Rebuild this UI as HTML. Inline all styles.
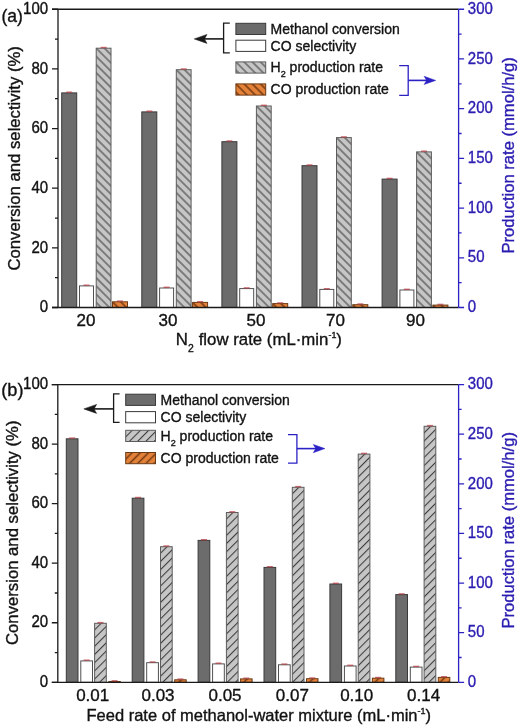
<!DOCTYPE html>
<html><head><meta charset="utf-8"><style>
html,body{margin:0;padding:0;background:#fff;}
svg{display:block;font-family:"Liberation Sans", sans-serif;filter:blur(0.35px);}
text{stroke-width:0.35px;paint-order:stroke;}
</style></head><body>
<svg width="520" height="726" viewBox="0 0 520 726">
<rect width="520" height="726" fill="#fff"/>
<defs><pattern id="p1" patternUnits="userSpaceOnUse" width="5.8" height="5.8" patternTransform="translate(95.70,47.70) rotate(-45)"><rect width="5.8" height="5.8" fill="#c6c6c6"/><rect x="5.27" y="0" width="0.53" height="5.8" fill="#3a3a3a"/><rect x="0" y="0" width="0.52" height="5.8" fill="#3a3a3a"/></pattern><pattern id="p2" patternUnits="userSpaceOnUse" width="5.8" height="5.8" patternTransform="translate(112.00,301.30) rotate(-45)"><rect width="5.8" height="5.8" fill="#e4823a"/><rect x="5.05" y="0" width="0.75" height="5.8" fill="#743810"/><rect x="0" y="0" width="0.75" height="5.8" fill="#743810"/></pattern><pattern id="p3" patternUnits="userSpaceOnUse" width="5.8" height="5.8" patternTransform="translate(175.80,69.20) rotate(-45)"><rect width="5.8" height="5.8" fill="#c6c6c6"/><rect x="5.27" y="0" width="0.53" height="5.8" fill="#3a3a3a"/><rect x="0" y="0" width="0.52" height="5.8" fill="#3a3a3a"/></pattern><pattern id="p4" patternUnits="userSpaceOnUse" width="5.8" height="5.8" patternTransform="translate(192.10,301.90) rotate(-45)"><rect width="5.8" height="5.8" fill="#e4823a"/><rect x="5.05" y="0" width="0.75" height="5.8" fill="#743810"/><rect x="0" y="0" width="0.75" height="5.8" fill="#743810"/></pattern><pattern id="p5" patternUnits="userSpaceOnUse" width="5.8" height="5.8" patternTransform="translate(255.90,105.50) rotate(-45)"><rect width="5.8" height="5.8" fill="#c6c6c6"/><rect x="5.27" y="0" width="0.53" height="5.8" fill="#3a3a3a"/><rect x="0" y="0" width="0.52" height="5.8" fill="#3a3a3a"/></pattern><pattern id="p6" patternUnits="userSpaceOnUse" width="5.8" height="5.8" patternTransform="translate(272.20,303.10) rotate(-45)"><rect width="5.8" height="5.8" fill="#e4823a"/><rect x="5.05" y="0" width="0.75" height="5.8" fill="#743810"/><rect x="0" y="0" width="0.75" height="5.8" fill="#743810"/></pattern><pattern id="p7" patternUnits="userSpaceOnUse" width="5.8" height="5.8" patternTransform="translate(336.00,137.10) rotate(-45)"><rect width="5.8" height="5.8" fill="#c6c6c6"/><rect x="5.27" y="0" width="0.53" height="5.8" fill="#3a3a3a"/><rect x="0" y="0" width="0.52" height="5.8" fill="#3a3a3a"/></pattern><pattern id="p8" patternUnits="userSpaceOnUse" width="5.8" height="5.8" patternTransform="translate(352.30,304.20) rotate(-45)"><rect width="5.8" height="5.8" fill="#e4823a"/><rect x="5.05" y="0" width="0.75" height="5.8" fill="#743810"/><rect x="0" y="0" width="0.75" height="5.8" fill="#743810"/></pattern><pattern id="p9" patternUnits="userSpaceOnUse" width="5.8" height="5.8" patternTransform="translate(416.10,151.40) rotate(-45)"><rect width="5.8" height="5.8" fill="#c6c6c6"/><rect x="5.27" y="0" width="0.53" height="5.8" fill="#3a3a3a"/><rect x="0" y="0" width="0.52" height="5.8" fill="#3a3a3a"/></pattern><pattern id="p10" patternUnits="userSpaceOnUse" width="5.8" height="5.8" patternTransform="translate(432.40,304.60) rotate(-45)"><rect width="5.8" height="5.8" fill="#e4823a"/><rect x="5.05" y="0" width="0.75" height="5.8" fill="#743810"/><rect x="0" y="0" width="0.75" height="5.8" fill="#743810"/></pattern><pattern id="p11" patternUnits="userSpaceOnUse" width="5.8" height="5.8" patternTransform="translate(94.10,622.80) rotate(45)"><rect width="5.8" height="5.8" fill="#c6c6c6"/><rect x="4.84" y="0" width="0.96" height="5.8" fill="#3a3a3a"/><rect x="0" y="0" width="0.09" height="5.8" fill="#3a3a3a"/></pattern><pattern id="p12" patternUnits="userSpaceOnUse" width="5.8" height="5.8" patternTransform="translate(108.30,681.00) rotate(45)"><rect width="5.8" height="5.8" fill="#e4823a"/><rect x="4.62" y="0" width="1.18" height="5.8" fill="#743810"/><rect x="0" y="0" width="0.32" height="5.8" fill="#743810"/></pattern><pattern id="p13" patternUnits="userSpaceOnUse" width="5.8" height="5.8" patternTransform="translate(160.00,546.20) rotate(45)"><rect width="5.8" height="5.8" fill="#c6c6c6"/><rect x="4.84" y="0" width="0.96" height="5.8" fill="#3a3a3a"/><rect x="0" y="0" width="0.09" height="5.8" fill="#3a3a3a"/></pattern><pattern id="p14" patternUnits="userSpaceOnUse" width="5.8" height="5.8" patternTransform="translate(174.20,679.30) rotate(45)"><rect width="5.8" height="5.8" fill="#e4823a"/><rect x="4.62" y="0" width="1.18" height="5.8" fill="#743810"/><rect x="0" y="0" width="0.32" height="5.8" fill="#743810"/></pattern><pattern id="p15" patternUnits="userSpaceOnUse" width="5.8" height="5.8" patternTransform="translate(225.90,512.00) rotate(45)"><rect width="5.8" height="5.8" fill="#c6c6c6"/><rect x="4.84" y="0" width="0.96" height="5.8" fill="#3a3a3a"/><rect x="0" y="0" width="0.09" height="5.8" fill="#3a3a3a"/></pattern><pattern id="p16" patternUnits="userSpaceOnUse" width="5.8" height="5.8" patternTransform="translate(240.10,678.40) rotate(45)"><rect width="5.8" height="5.8" fill="#e4823a"/><rect x="4.62" y="0" width="1.18" height="5.8" fill="#743810"/><rect x="0" y="0" width="0.32" height="5.8" fill="#743810"/></pattern><pattern id="p17" patternUnits="userSpaceOnUse" width="5.8" height="5.8" patternTransform="translate(291.80,486.80) rotate(45)"><rect width="5.8" height="5.8" fill="#c6c6c6"/><rect x="4.84" y="0" width="0.96" height="5.8" fill="#3a3a3a"/><rect x="0" y="0" width="0.09" height="5.8" fill="#3a3a3a"/></pattern><pattern id="p18" patternUnits="userSpaceOnUse" width="5.8" height="5.8" patternTransform="translate(306.00,678.20) rotate(45)"><rect width="5.8" height="5.8" fill="#e4823a"/><rect x="4.62" y="0" width="1.18" height="5.8" fill="#743810"/><rect x="0" y="0" width="0.32" height="5.8" fill="#743810"/></pattern><pattern id="p19" patternUnits="userSpaceOnUse" width="5.8" height="5.8" patternTransform="translate(357.70,453.60) rotate(45)"><rect width="5.8" height="5.8" fill="#c6c6c6"/><rect x="4.84" y="0" width="0.96" height="5.8" fill="#3a3a3a"/><rect x="0" y="0" width="0.09" height="5.8" fill="#3a3a3a"/></pattern><pattern id="p20" patternUnits="userSpaceOnUse" width="5.8" height="5.8" patternTransform="translate(371.90,677.70) rotate(45)"><rect width="5.8" height="5.8" fill="#e4823a"/><rect x="4.62" y="0" width="1.18" height="5.8" fill="#743810"/><rect x="0" y="0" width="0.32" height="5.8" fill="#743810"/></pattern><pattern id="p21" patternUnits="userSpaceOnUse" width="5.8" height="5.8" patternTransform="translate(423.60,425.80) rotate(45)"><rect width="5.8" height="5.8" fill="#c6c6c6"/><rect x="4.84" y="0" width="0.96" height="5.8" fill="#3a3a3a"/><rect x="0" y="0" width="0.09" height="5.8" fill="#3a3a3a"/></pattern><pattern id="p22" patternUnits="userSpaceOnUse" width="5.8" height="5.8" patternTransform="translate(437.80,676.90) rotate(45)"><rect width="5.8" height="5.8" fill="#e4823a"/><rect x="4.62" y="0" width="1.18" height="5.8" fill="#743810"/><rect x="0" y="0" width="0.32" height="5.8" fill="#743810"/></pattern><pattern id="p23" patternUnits="userSpaceOnUse" width="5.8" height="5.8" patternTransform="translate(235.40,61.40) rotate(-45)"><rect width="5.8" height="5.8" fill="#c6c6c6"/><rect x="5.27" y="0" width="0.53" height="5.8" fill="#3a3a3a"/><rect x="0" y="0" width="0.52" height="5.8" fill="#3a3a3a"/></pattern><pattern id="p24" patternUnits="userSpaceOnUse" width="5.8" height="5.8" patternTransform="translate(235.40,83.40) rotate(-45)"><rect width="5.8" height="5.8" fill="#e4823a"/><rect x="5.05" y="0" width="0.75" height="5.8" fill="#743810"/><rect x="0" y="0" width="0.75" height="5.8" fill="#743810"/></pattern><pattern id="p25" patternUnits="userSpaceOnUse" width="5.8" height="5.8" patternTransform="translate(125.20,429.80) rotate(45)"><rect width="5.8" height="5.8" fill="#c6c6c6"/><rect x="4.84" y="0" width="0.96" height="5.8" fill="#3a3a3a"/><rect x="0" y="0" width="0.09" height="5.8" fill="#3a3a3a"/></pattern><pattern id="p26" patternUnits="userSpaceOnUse" width="5.8" height="5.8" patternTransform="translate(125.20,452.00) rotate(45)"><rect width="5.8" height="5.8" fill="#e4823a"/><rect x="4.62" y="0" width="1.18" height="5.8" fill="#743810"/><rect x="0" y="0" width="0.32" height="5.8" fill="#743810"/></pattern></defs>
<rect x="61.70" y="92.90" width="15.00" height="214.60" fill="#6c6c6c" stroke="#3a3a3a" stroke-width="1"/>
<rect x="66.20" y="91.50" width="6" height="1.4" fill="#b43c44" opacity="0.75"/>
<rect x="79.50" y="285.90" width="14.00" height="21.60" fill="#fff" stroke="#484848" stroke-width="0.95"/>
<rect x="83.50" y="284.50" width="6" height="1.4" fill="#b43c44" opacity="0.75"/>
<rect x="96.20" y="48.20" width="14.80" height="259.30" fill="url(#p1)" stroke="#5c5c5c" stroke-width="1"/>
<rect x="100.60" y="46.80" width="6" height="1.4" fill="#b43c44" opacity="0.75"/>
<rect x="112.50" y="301.80" width="15.00" height="5.70" fill="url(#p2)" stroke="#6a3a14" stroke-width="1"/>
<rect x="117.00" y="300.40" width="6" height="1.4" fill="#b43c44" opacity="0.75"/>
<rect x="141.80" y="111.90" width="15.00" height="195.60" fill="#6c6c6c" stroke="#3a3a3a" stroke-width="1"/>
<rect x="146.30" y="110.50" width="6" height="1.4" fill="#b43c44" opacity="0.75"/>
<rect x="159.60" y="288.00" width="14.00" height="19.50" fill="#fff" stroke="#484848" stroke-width="0.95"/>
<rect x="163.60" y="286.60" width="6" height="1.4" fill="#b43c44" opacity="0.75"/>
<rect x="176.30" y="69.70" width="14.80" height="237.80" fill="url(#p3)" stroke="#5c5c5c" stroke-width="1"/>
<rect x="180.70" y="68.30" width="6" height="1.4" fill="#b43c44" opacity="0.75"/>
<rect x="192.60" y="302.40" width="15.00" height="5.10" fill="url(#p4)" stroke="#6a3a14" stroke-width="1"/>
<rect x="197.10" y="301.00" width="6" height="1.4" fill="#b43c44" opacity="0.75"/>
<rect x="221.90" y="141.70" width="15.00" height="165.80" fill="#6c6c6c" stroke="#3a3a3a" stroke-width="1"/>
<rect x="226.40" y="140.30" width="6" height="1.4" fill="#b43c44" opacity="0.75"/>
<rect x="239.70" y="288.60" width="14.00" height="18.90" fill="#fff" stroke="#484848" stroke-width="0.95"/>
<rect x="243.70" y="287.20" width="6" height="1.4" fill="#b43c44" opacity="0.75"/>
<rect x="256.40" y="106.00" width="14.80" height="201.50" fill="url(#p5)" stroke="#5c5c5c" stroke-width="1"/>
<rect x="260.80" y="104.60" width="6" height="1.4" fill="#b43c44" opacity="0.75"/>
<rect x="272.70" y="303.60" width="15.00" height="3.90" fill="url(#p6)" stroke="#6a3a14" stroke-width="1"/>
<rect x="277.20" y="302.20" width="6" height="1.4" fill="#b43c44" opacity="0.75"/>
<rect x="302.00" y="165.70" width="15.00" height="141.80" fill="#6c6c6c" stroke="#3a3a3a" stroke-width="1"/>
<rect x="306.50" y="164.30" width="6" height="1.4" fill="#b43c44" opacity="0.75"/>
<rect x="319.80" y="289.40" width="14.00" height="18.10" fill="#fff" stroke="#484848" stroke-width="0.95"/>
<rect x="323.80" y="288.00" width="6" height="1.4" fill="#b43c44" opacity="0.75"/>
<rect x="336.50" y="137.60" width="14.80" height="169.90" fill="url(#p7)" stroke="#5c5c5c" stroke-width="1"/>
<rect x="340.90" y="136.20" width="6" height="1.4" fill="#b43c44" opacity="0.75"/>
<rect x="352.80" y="304.70" width="15.00" height="2.80" fill="url(#p8)" stroke="#6a3a14" stroke-width="1"/>
<rect x="357.30" y="303.30" width="6" height="1.4" fill="#b43c44" opacity="0.75"/>
<rect x="382.10" y="179.10" width="15.00" height="128.40" fill="#6c6c6c" stroke="#3a3a3a" stroke-width="1"/>
<rect x="386.60" y="177.70" width="6" height="1.4" fill="#b43c44" opacity="0.75"/>
<rect x="399.90" y="290.00" width="14.00" height="17.50" fill="#fff" stroke="#484848" stroke-width="0.95"/>
<rect x="403.90" y="288.60" width="6" height="1.4" fill="#b43c44" opacity="0.75"/>
<rect x="416.60" y="151.90" width="14.80" height="155.60" fill="url(#p9)" stroke="#5c5c5c" stroke-width="1"/>
<rect x="421.00" y="150.50" width="6" height="1.4" fill="#b43c44" opacity="0.75"/>
<rect x="432.90" y="305.10" width="15.00" height="2.40" fill="url(#p10)" stroke="#6a3a14" stroke-width="1"/>
<rect x="437.40" y="303.70" width="6" height="1.4" fill="#b43c44" opacity="0.75"/>
<path d="M52.0,9.25 H458.6 M58.0,9.25 V307.5 M52.0,307.5 H458.6" stroke="#1a1a1a" stroke-width="1.3" fill="none"/>
<path d="M52.0,307.50 H58.0 M55.0,277.68 H58.0 M52.0,247.85 H58.0 M55.0,218.03 H58.0 M52.0,188.20 H58.0 M55.0,158.38 H58.0 M52.0,128.55 H58.0 M55.0,98.72 H58.0 M52.0,68.90 H58.0 M55.0,39.07 H58.0 M52.0,9.25 H58.0 " stroke="#1a1a1a" stroke-width="1.3" fill="none"/>
<path d="M458.6,9.25 V307.5 M458.6,307.50 H464.1 M458.6,282.65 H461.6 M458.6,257.79 H464.1 M458.6,232.94 H461.6 M458.6,208.08 H464.1 M458.6,183.23 H461.6 M458.6,158.38 H464.1 M458.6,133.52 H461.6 M458.6,108.67 H464.1 M458.6,83.81 H461.6 M458.6,58.96 H464.1 M458.6,34.10 H461.6 M458.6,9.25 H464.1 " stroke="#2c22c4" stroke-width="1.3" fill="none"/>
<text transform="translate(48.1,312.20) scale(1,1.04)" text-anchor="end" font-size="15" fill="#111" stroke="#111">0</text>
<text transform="translate(48.1,252.55) scale(1,1.04)" text-anchor="end" font-size="15" fill="#111" stroke="#111">20</text>
<text transform="translate(48.1,192.90) scale(1,1.04)" text-anchor="end" font-size="15" fill="#111" stroke="#111">40</text>
<text transform="translate(48.1,133.25) scale(1,1.04)" text-anchor="end" font-size="15" fill="#111" stroke="#111">60</text>
<text transform="translate(48.1,73.60) scale(1,1.04)" text-anchor="end" font-size="15" fill="#111" stroke="#111">80</text>
<text transform="translate(48.1,13.95) scale(1,1.04)" text-anchor="end" font-size="15" fill="#111" stroke="#111">100</text>
<text transform="translate(467.8,312.20) scale(1,1.05)" font-size="15" fill="#2a1cb0" stroke="#2a1cb0">0</text>
<text transform="translate(467.8,262.49) scale(1,1.05)" font-size="15" fill="#2a1cb0" stroke="#2a1cb0">50</text>
<text transform="translate(467.8,212.78) scale(1,1.05)" font-size="15" fill="#2a1cb0" stroke="#2a1cb0">100</text>
<text transform="translate(467.8,163.07) scale(1,1.05)" font-size="15" fill="#2a1cb0" stroke="#2a1cb0">150</text>
<text transform="translate(467.8,113.37) scale(1,1.05)" font-size="15" fill="#2a1cb0" stroke="#2a1cb0">200</text>
<text transform="translate(467.8,63.66) scale(1,1.05)" font-size="15" fill="#2a1cb0" stroke="#2a1cb0">250</text>
<text transform="translate(467.8,13.95) scale(1,1.05)" font-size="15" fill="#2a1cb0" stroke="#2a1cb0">300</text>
<text x="86" y="325.90" text-anchor="middle" font-size="17" fill="#111" stroke="#111">20</text>
<text x="168" y="325.90" text-anchor="middle" font-size="17" fill="#111" stroke="#111">30</text>
<text x="256" y="325.90" text-anchor="middle" font-size="17" fill="#111" stroke="#111">50</text>
<text x="335.5" y="325.90" text-anchor="middle" font-size="17" fill="#111" stroke="#111">70</text>
<text x="415.5" y="325.90" text-anchor="middle" font-size="17" fill="#111" stroke="#111">90</text>
<text transform="translate(19.6,158.3) rotate(-90)" text-anchor="middle" font-size="16.7" fill="#111" stroke="#111">Conversion and selectivity (%)</text>
<text transform="translate(513.7,155.4) rotate(-90)" text-anchor="middle" font-size="16.6" fill="#2a1cb0" stroke="#2a1cb0">Production rate (mmol/h/g)</text>
<rect x="66.30" y="438.80" width="11.70" height="243.50" fill="#6c6c6c" stroke="#3a3a3a" stroke-width="1"/>
<rect x="69.15" y="437.40" width="6" height="1.4" fill="#b43c44" opacity="0.75"/>
<rect x="80.80" y="660.90" width="11.70" height="21.40" fill="#fff" stroke="#484848" stroke-width="0.95"/>
<rect x="83.65" y="659.50" width="6" height="1.4" fill="#b43c44" opacity="0.75"/>
<rect x="94.60" y="623.30" width="11.70" height="59.00" fill="url(#p11)" stroke="#5c5c5c" stroke-width="1"/>
<rect x="97.45" y="621.90" width="6" height="1.4" fill="#b43c44" opacity="0.75"/>
<rect x="108.80" y="681.50" width="11.50" height="0.80" fill="url(#p12)" stroke="#6a3a14" stroke-width="1"/>
<rect x="111.55" y="680.10" width="6" height="1.4" fill="#b43c44" opacity="0.75"/>
<rect x="132.20" y="498.20" width="11.70" height="184.10" fill="#6c6c6c" stroke="#3a3a3a" stroke-width="1"/>
<rect x="135.05" y="496.80" width="6" height="1.4" fill="#b43c44" opacity="0.75"/>
<rect x="146.70" y="662.70" width="11.70" height="19.60" fill="#fff" stroke="#484848" stroke-width="0.95"/>
<rect x="149.55" y="661.30" width="6" height="1.4" fill="#b43c44" opacity="0.75"/>
<rect x="160.50" y="546.70" width="11.70" height="135.60" fill="url(#p13)" stroke="#5c5c5c" stroke-width="1"/>
<rect x="163.35" y="545.30" width="6" height="1.4" fill="#b43c44" opacity="0.75"/>
<rect x="174.70" y="679.80" width="11.50" height="2.50" fill="url(#p14)" stroke="#6a3a14" stroke-width="1"/>
<rect x="177.45" y="678.40" width="6" height="1.4" fill="#b43c44" opacity="0.75"/>
<rect x="198.10" y="540.40" width="11.70" height="141.90" fill="#6c6c6c" stroke="#3a3a3a" stroke-width="1"/>
<rect x="200.95" y="539.00" width="6" height="1.4" fill="#b43c44" opacity="0.75"/>
<rect x="212.60" y="663.90" width="11.70" height="18.40" fill="#fff" stroke="#484848" stroke-width="0.95"/>
<rect x="215.45" y="662.50" width="6" height="1.4" fill="#b43c44" opacity="0.75"/>
<rect x="226.40" y="512.50" width="11.70" height="169.80" fill="url(#p15)" stroke="#5c5c5c" stroke-width="1"/>
<rect x="229.25" y="511.10" width="6" height="1.4" fill="#b43c44" opacity="0.75"/>
<rect x="240.60" y="678.90" width="11.50" height="3.40" fill="url(#p16)" stroke="#6a3a14" stroke-width="1"/>
<rect x="243.35" y="677.50" width="6" height="1.4" fill="#b43c44" opacity="0.75"/>
<rect x="264.00" y="567.40" width="11.70" height="114.90" fill="#6c6c6c" stroke="#3a3a3a" stroke-width="1"/>
<rect x="266.85" y="566.00" width="6" height="1.4" fill="#b43c44" opacity="0.75"/>
<rect x="278.50" y="664.80" width="11.70" height="17.50" fill="#fff" stroke="#484848" stroke-width="0.95"/>
<rect x="281.35" y="663.40" width="6" height="1.4" fill="#b43c44" opacity="0.75"/>
<rect x="292.30" y="487.30" width="11.70" height="195.00" fill="url(#p17)" stroke="#5c5c5c" stroke-width="1"/>
<rect x="295.15" y="485.90" width="6" height="1.4" fill="#b43c44" opacity="0.75"/>
<rect x="306.50" y="678.70" width="11.50" height="3.60" fill="url(#p18)" stroke="#6a3a14" stroke-width="1"/>
<rect x="309.25" y="677.30" width="6" height="1.4" fill="#b43c44" opacity="0.75"/>
<rect x="329.90" y="584.00" width="11.70" height="98.30" fill="#6c6c6c" stroke="#3a3a3a" stroke-width="1"/>
<rect x="332.75" y="582.60" width="6" height="1.4" fill="#b43c44" opacity="0.75"/>
<rect x="344.40" y="666.00" width="11.70" height="16.30" fill="#fff" stroke="#484848" stroke-width="0.95"/>
<rect x="347.25" y="664.60" width="6" height="1.4" fill="#b43c44" opacity="0.75"/>
<rect x="358.20" y="454.10" width="11.70" height="228.20" fill="url(#p19)" stroke="#5c5c5c" stroke-width="1"/>
<rect x="361.05" y="452.70" width="6" height="1.4" fill="#b43c44" opacity="0.75"/>
<rect x="372.40" y="678.20" width="11.50" height="4.10" fill="url(#p20)" stroke="#6a3a14" stroke-width="1"/>
<rect x="375.15" y="676.80" width="6" height="1.4" fill="#b43c44" opacity="0.75"/>
<rect x="395.80" y="594.60" width="11.70" height="87.70" fill="#6c6c6c" stroke="#3a3a3a" stroke-width="1"/>
<rect x="398.65" y="593.20" width="6" height="1.4" fill="#b43c44" opacity="0.75"/>
<rect x="410.30" y="667.10" width="11.70" height="15.20" fill="#fff" stroke="#484848" stroke-width="0.95"/>
<rect x="413.15" y="665.70" width="6" height="1.4" fill="#b43c44" opacity="0.75"/>
<rect x="424.10" y="426.30" width="11.70" height="256.00" fill="url(#p21)" stroke="#5c5c5c" stroke-width="1"/>
<rect x="426.95" y="424.90" width="6" height="1.4" fill="#b43c44" opacity="0.75"/>
<rect x="438.30" y="677.40" width="11.50" height="4.90" fill="url(#p22)" stroke="#6a3a14" stroke-width="1"/>
<rect x="441.05" y="676.00" width="6" height="1.4" fill="#b43c44" opacity="0.75"/>
<path d="M51.8,384.6 H458.6 M57.8,384.6 V682.3 M51.8,682.3 H458.6" stroke="#1a1a1a" stroke-width="1.3" fill="none"/>
<path d="M51.8,682.30 H57.8 M54.8,652.53 H57.8 M51.8,622.76 H57.8 M54.8,592.99 H57.8 M51.8,563.22 H57.8 M54.8,533.45 H57.8 M51.8,503.68 H57.8 M54.8,473.91 H57.8 M51.8,444.14 H57.8 M54.8,414.37 H57.8 M51.8,384.60 H57.8 " stroke="#1a1a1a" stroke-width="1.3" fill="none"/>
<path d="M458.6,384.6 V682.3 M458.6,682.30 H464.1 M458.6,657.49 H461.6 M458.6,632.68 H464.1 M458.6,607.88 H461.6 M458.6,583.07 H464.1 M458.6,558.26 H461.6 M458.6,533.45 H464.1 M458.6,508.64 H461.6 M458.6,483.83 H464.1 M458.6,459.02 H461.6 M458.6,434.22 H464.1 M458.6,409.41 H461.6 M458.6,384.60 H464.1 " stroke="#2c22c4" stroke-width="1.3" fill="none"/>
<text transform="translate(48.1,687.00) scale(1,1.04)" text-anchor="end" font-size="15" fill="#111" stroke="#111">0</text>
<text transform="translate(48.1,627.46) scale(1,1.04)" text-anchor="end" font-size="15" fill="#111" stroke="#111">20</text>
<text transform="translate(48.1,567.92) scale(1,1.04)" text-anchor="end" font-size="15" fill="#111" stroke="#111">40</text>
<text transform="translate(48.1,508.38) scale(1,1.04)" text-anchor="end" font-size="15" fill="#111" stroke="#111">60</text>
<text transform="translate(48.1,448.84) scale(1,1.04)" text-anchor="end" font-size="15" fill="#111" stroke="#111">80</text>
<text transform="translate(48.1,389.30) scale(1,1.04)" text-anchor="end" font-size="15" fill="#111" stroke="#111">100</text>
<text transform="translate(467.8,687.00) scale(1,1.05)" font-size="15" fill="#2a1cb0" stroke="#2a1cb0">0</text>
<text transform="translate(467.8,637.38) scale(1,1.05)" font-size="15" fill="#2a1cb0" stroke="#2a1cb0">50</text>
<text transform="translate(467.8,587.77) scale(1,1.05)" font-size="15" fill="#2a1cb0" stroke="#2a1cb0">100</text>
<text transform="translate(467.8,538.15) scale(1,1.05)" font-size="15" fill="#2a1cb0" stroke="#2a1cb0">150</text>
<text transform="translate(467.8,488.53) scale(1,1.05)" font-size="15" fill="#2a1cb0" stroke="#2a1cb0">200</text>
<text transform="translate(467.8,438.92) scale(1,1.05)" font-size="15" fill="#2a1cb0" stroke="#2a1cb0">250</text>
<text transform="translate(467.8,389.30) scale(1,1.05)" font-size="15" fill="#2a1cb0" stroke="#2a1cb0">300</text>
<text x="92.7" y="700.70" text-anchor="middle" font-size="17" fill="#111" stroke="#111">0.01</text>
<text x="158" y="700.70" text-anchor="middle" font-size="17" fill="#111" stroke="#111">0.03</text>
<text x="225" y="700.70" text-anchor="middle" font-size="17" fill="#111" stroke="#111">0.05</text>
<text x="292.3" y="700.70" text-anchor="middle" font-size="17" fill="#111" stroke="#111">0.07</text>
<text x="356.7" y="700.70" text-anchor="middle" font-size="17" fill="#111" stroke="#111">0.10</text>
<text x="423.6" y="700.70" text-anchor="middle" font-size="17" fill="#111" stroke="#111">0.14</text>
<text transform="translate(18.4,532.75) rotate(-90)" text-anchor="middle" font-size="16.7" fill="#111" stroke="#111">Conversion and selectivity (%)</text>
<text transform="translate(513.7,530.3) rotate(-90)" text-anchor="middle" font-size="16.6" fill="#2a1cb0" stroke="#2a1cb0">Production rate (mmol/h/g)</text>
<text x="1.5" y="22" font-size="17.5" fill="#111" stroke="#111">(a)</text>
<text x="1.3" y="396.2" font-size="18.2" fill="#111" stroke="#111">(b)</text>
<text transform="translate(175.8,345.2) scale(0.989,1)" font-size="17" fill="#111" stroke="#111">N<tspan font-size="10.5" dy="6.6">2</tspan><tspan dy="-6.6" dx="0.3"> flow rate (mL·min</tspan><tspan font-size="9" dy="-7">-1</tspan><tspan dy="7">)</tspan></text>
<text x="86.5" y="720.8" font-size="16.5" fill="#111" stroke="#111">Feed rate of methanol-water mixture (mL·min<tspan font-size="9" dy="-7">-1</tspan><tspan dy="7">)</tspan></text>
<rect x="235.9" y="23.3" width="29.8" height="11.2" fill="#6c6c6c" stroke="#3a3a3a" stroke-width="1"/>
<text x="270.6" y="33.60" font-size="14" fill="#111" stroke="#111">Methanol conversion</text>
<rect x="235.9" y="40.2" width="29.8" height="11.2" fill="#fff" stroke="#3a3a3a" stroke-width="1"/>
<text x="270.6" y="50.50" font-size="14" fill="#111" stroke="#111">CO selectivity</text>
<rect x="235.9" y="61.9" width="29.8" height="11.2" fill="url(#p23)" stroke="#5c5c5c" stroke-width="1"/>
<text x="270.6" y="72.20" font-size="14" fill="#111" stroke="#111">H<tspan font-size="9" dy="5">2</tspan><tspan dy="-5"> production rate</tspan></text>
<rect x="235.9" y="83.9" width="29.8" height="11.2" fill="url(#p24)" stroke="#6a3a14" stroke-width="1"/>
<text x="270.6" y="94.20" font-size="14" fill="#111" stroke="#111">CO production rate</text>
<path d="M229.8,23.2 H223.6 V52.8 H229.8" stroke="#1a1a1a" stroke-width="1.3" fill="none"/>
<path d="M223.6,38.9 H201.0" stroke="#1a1a1a" stroke-width="1.6" fill="none"/>
<path d="M194.2,38.9 L207.0,34.4 L204.5,38.9 L207.0,43.4 Z" fill="#1a1a1a" stroke="#1a1a1a" stroke-width="0.5" stroke-linejoin="round"/>
<path d="M399.2,65.6 H408.2 V95.3 H399.2" stroke="#2c22c4" stroke-width="1.3" fill="none"/>
<path d="M408.2,80.4 H429.4" stroke="#2c22c4" stroke-width="1.6" fill="none"/>
<path d="M435.7,80.4 L424.09999999999997,76.30000000000001 L426.59999999999997,80.4 L424.09999999999997,84.5 Z" fill="#2c22c4" stroke="#2c22c4" stroke-width="0.5" stroke-linejoin="round"/>
<rect x="125.7" y="394.2" width="29.8" height="11.2" fill="#6c6c6c" stroke="#3a3a3a" stroke-width="1"/>
<text x="160.6" y="404.50" font-size="14" fill="#111" stroke="#111">Methanol conversion</text>
<rect x="125.7" y="411.6" width="29.8" height="11.2" fill="#fff" stroke="#3a3a3a" stroke-width="1"/>
<text x="160.6" y="421.90" font-size="14" fill="#111" stroke="#111">CO selectivity</text>
<rect x="125.7" y="430.3" width="29.8" height="11.2" fill="url(#p25)" stroke="#5c5c5c" stroke-width="1"/>
<text x="160.6" y="440.60" font-size="14" fill="#111" stroke="#111">H<tspan font-size="9" dy="5">2</tspan><tspan dy="-5"> production rate</tspan></text>
<rect x="125.7" y="452.5" width="29.8" height="11.2" fill="url(#p26)" stroke="#6a3a14" stroke-width="1"/>
<text x="160.6" y="462.80" font-size="14" fill="#111" stroke="#111">CO production rate</text>
<path d="M119.6,393.8 H113.6 V422.4 H119.6" stroke="#1a1a1a" stroke-width="1.3" fill="none"/>
<path d="M113.6,408.9 H90.6" stroke="#1a1a1a" stroke-width="1.6" fill="none"/>
<path d="M83.8,408.9 L96.6,404.4 L94.1,408.9 L96.6,413.4 Z" fill="#1a1a1a" stroke="#1a1a1a" stroke-width="0.5" stroke-linejoin="round"/>
<path d="M288.0,434.7 H296.9 V463.1 H288.0" stroke="#2c22c4" stroke-width="1.3" fill="none"/>
<path d="M296.9,448.6 H318.6" stroke="#2c22c4" stroke-width="1.6" fill="none"/>
<path d="M324.90000000000003,448.6 L313.3,444.5 L315.8,448.6 L313.3,452.70000000000005 Z" fill="#2c22c4" stroke="#2c22c4" stroke-width="0.5" stroke-linejoin="round"/>
</svg>
</body></html>
